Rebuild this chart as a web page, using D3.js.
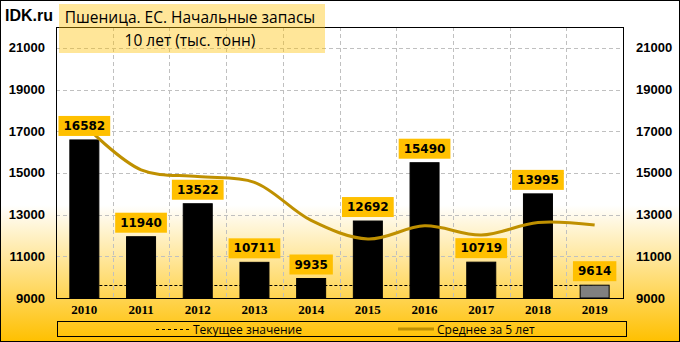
<!DOCTYPE html>
<html>
<head>
<meta charset="utf-8">
<script src="https://cdn.jsdelivr.net/npm/d3@7"></script>
<style>
  body { margin: 0; background: #fff; }
  svg { display: block; }
</style>
</head>
<body>
<div id="chart"></div>
<script>
"use strict";

// data
const years = [2010, 2011, 2012, 2013, 2014, 2015, 2016, 2017, 2018, 2019];
const stocks = [16582, 11940, 13522, 10711, 9935, 12692, 15490, 10719, 13995, 9614];
const avg5 = [17300, 15150, 14830, 14550, 12720, 11830, 12460, 12020, 12620, 12500];
const currentValue = 9614;
const yTicks = [9000, 11000, 13000, 15000, 17000, 19000, 21000];
const titleLines = ['Пшеница. ЕС. Начальные запасы', '10 лет (тыс. тонн)'];
const legendLabels = ['Текущее значение', 'Среднее за 5 лет'];

const W = 680, H = 342;
const plot = { left: 56, right: 623, top: 27, bottom: 298 };

const svg = d3.select('#chart').append('svg')
    .attr('width', W).attr('height', H);

// background gradient
const grad = svg.append('defs').append('linearGradient')
    .attr('id', 'bg').attr('x1', 0).attr('y1', 0).attr('x2', 0).attr('y2', 1);
grad.append('stop').attr('offset', '0.6').attr('stop-color', '#ffffff');
grad.append('stop').attr('offset', '1').attr('stop-color', '#ffc000');

svg.append('rect').attr('x', 0.5).attr('y', 0.5)
    .attr('width', W - 1).attr('height', H - 1)
    .attr('fill', 'url(#bg)').attr('stroke', '#000').attr('stroke-width', 1);

const x = d3.scaleBand().domain(years).range([plot.left, plot.right]).paddingInner(0).paddingOuter(0);
const y = d3.scaleLinear().domain([9000, 22000]).range([plot.bottom, plot.top]);
const barW = 29;

// gridlines
const grid = svg.append('g').attr('stroke', '#c0c0c0').attr('stroke-dasharray', '4,3').attr('stroke-width', 1);
grid.selectAll('.hg').data(yTicks.slice(1)).enter().append('line')
    .attr('x1', plot.left).attr('x2', plot.right)
    .attr('y1', d => Math.round(y(d)) + 0.5).attr('y2', d => Math.round(y(d)) + 0.5);
grid.selectAll('.vg').data(years.slice(1)).enter().append('line')
    .attr('x1', d => Math.round(x(d)) + 0.5).attr('x2', d => Math.round(x(d)) + 0.5)
    .attr('y1', plot.top).attr('y2', plot.bottom);

// current value line (behind bars)
svg.append('line')
    .attr('x1', x(years[0]) + x.bandwidth() / 2)
    .attr('x2', x(years[years.length - 1]) + x.bandwidth() / 2)
    .attr('y1', Math.round(y(currentValue)) + 0.5).attr('y2', Math.round(y(currentValue)) + 0.5)
    .attr('stroke', '#000').attr('stroke-width', 1).attr('stroke-dasharray', '3,2');

// bars
svg.selectAll('.bar').data(stocks).enter().append('rect')
    .attr('class', 'bar')
    .attr('x', (d, i) => x(years[i]) + x.bandwidth() / 2 - barW / 2)
    .attr('y', d => y(d))
    .attr('width', barW)
    .attr('height', d => plot.bottom - y(d))
    .attr('fill', (d, i) => i === stocks.length - 1 ? '#808080' : '#000')
    .attr('stroke', '#000').attr('stroke-width', 1);

// 5-year average line
const line = d3.line()
    .x((d, i) => x(years[i]) + x.bandwidth() / 2)
    .y(d => y(d))
    .curve(d3.curveCatmullRom.alpha(0.5));
svg.append('path').datum(avg5)
    .attr('d', line)
    .attr('fill', 'none').attr('stroke', '#bf9000').attr('stroke-width', 3);

// plot frame
svg.append('rect')
    .attr('x', plot.left + 0.5).attr('y', plot.top + 0.5)
    .attr('width', plot.right - plot.left).attr('height', plot.bottom - plot.top)
    .attr('fill', 'none').attr('stroke', '#000').attr('stroke-width', 1);

// data labels
const lbl = svg.selectAll('.lbl').data(stocks).enter().append('g').attr('class', 'lbl');
lbl.each(function(d, i) {
    const g = d3.select(this);
    const cx = x(years[i]) + x.bandwidth() / 2;
    const bottom = y(d) - 4;
    const t = g.append('text')
        .attr('x', cx).attr('y', bottom - 6)
        .attr('text-anchor', 'middle')
        .attr('font-family', 'DejaVu Sans, sans-serif')
        .attr('font-weight', 'bold').attr('font-size', 12)
        .attr('fill', '#000')
        .text(d);
    const tw = t.node().getComputedTextLength();
    g.insert('rect', 'text')
        .attr('x', cx - tw / 2 - 5).attr('y', bottom - 20)
        .attr('width', tw + 10).attr('height', 20)
        .attr('fill', '#ffc000');
});

// y axes labels
const axisFont = 'Liberation Sans, Arial, sans-serif';
svg.selectAll('.yl').data(yTicks).enter().append('text')
    .attr('x', 45).attr('y', d => y(d) + 4.5)
    .attr('text-anchor', 'end')
    .attr('font-family', axisFont).attr('font-weight', 'bold').attr('font-size', 13)
    .text(d => d);
svg.selectAll('.yr').data(yTicks).enter().append('text')
    .attr('x', 636).attr('y', d => y(d) + 4.5)
    .attr('text-anchor', 'start')
    .attr('font-family', axisFont).attr('font-weight', 'bold').attr('font-size', 13)
    .text(d => d);

// x labels
svg.selectAll('.xl').data(years).enter().append('text')
    .attr('x', d => x(d) + x.bandwidth() / 2).attr('y', 314)
    .attr('text-anchor', 'middle')
    .attr('font-family', 'Liberation Serif, serif').attr('font-weight', 'bold').attr('font-size', 13)
    .text(d => d);

// title
svg.append('rect').attr('x', 59).attr('y', 4).attr('width', 266).attr('height', 49)
    .attr('fill', '#ffc000').attr('fill-opacity', 0.4);
svg.append('text').attr('x', 190).attr('y', 23)
    .attr('text-anchor', 'middle')
    .attr('font-family', 'Open Sans, sans-serif').attr('font-size', 15.5)
    .text(titleLines[0]);
svg.append('text').attr('x', 190).attr('y', 45.5)
    .attr('text-anchor', 'middle')
    .attr('font-family', 'Open Sans, sans-serif').attr('font-size', 15.5)
    .text(titleLines[1]);

svg.append('text').attr('x', 5).attr('y', 21)
    .attr('font-family', axisFont).attr('font-weight', 'bold').attr('font-size', 16)
    .text('IDK.ru');

// legend
svg.append('rect').attr('x', 57.5).attr('y', 321.5).attr('width', 569).attr('height', 15)
    .attr('fill', 'none').attr('stroke', '#000').attr('stroke-width', 1);
svg.append('line').attr('x1', 156).attr('x2', 189).attr('y1', 329.5).attr('y2', 329.5)
    .attr('stroke', '#000').attr('stroke-dasharray', '3,3');
svg.append('text').attr('x', 193).attr('y', 333.5)
    .attr('font-family', 'Open Sans, sans-serif').attr('font-size', 12)
    .text(legendLabels[0]);
svg.append('line').attr('x1', 398).attr('x2', 434).attr('y1', 329).attr('y2', 329)
    .attr('stroke', '#bf9000').attr('stroke-width', 3);
svg.append('text').attr('x', 437).attr('y', 333.5)
    .attr('font-family', 'Open Sans, sans-serif').attr('font-size', 12)
    .text(legendLabels[1]);
</script>
</body>
</html>
